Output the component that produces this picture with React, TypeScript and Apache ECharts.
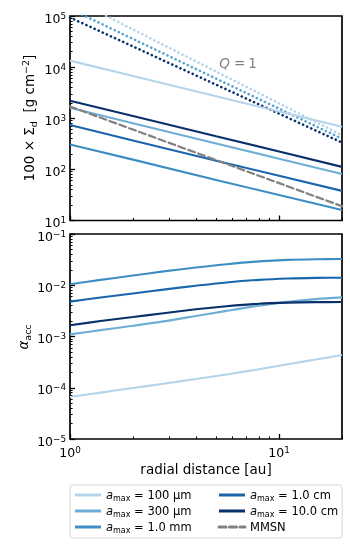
import React, { useEffect, useRef } from 'react';
import * as echarts from 'echarts';

// ---------- data ----------
const radius = [1, 2, 5, 10, 20];
const sigma100um = [13400, 6700, 2690, 1350, 680];
const sigma300um = [1600, 800, 322, 161, 81];
const sigma1mm = [308, 155, 62, 31.5, 16];
const sigma1cm = [735, 368, 148, 75, 38];
const sigma10cm = [2200, 1110, 445, 224, 112];
const sigmaMMSN = [1700, 601, 152, 53.8, 19];

const sigmaQ100um = [229000, 54600, 8180, 1950, 464];
const sigmaQ1mm = [138000, 35600, 5960, 1540, 398];
const sigmaQ10cm = [93300, 25400, 4530, 1230, 334];

const radiusFine = [1, 1.4, 2, 2.8, 4, 5.6, 8, 11, 15, 20];
const alpha100um = [6.6e-5, 8.04e-5, 9.89e-5, 1.2e-4, 1.48e-4, 1.82e-4, 2.29e-4, 2.88e-4, 3.55e-4, 4.34e-4];
const alpha300um = [1.1e-3, 1.33e-3, 1.62e-3, 1.97e-3, 2.51e-3, 3.16e-3, 3.98e-3, 4.73e-3, 5.37e-3, 5.8e-3];
const alpha1mm = [0.01047, 0.01274, 0.01549, 0.01862, 0.02213, 0.0257, 0.02917, 0.03126, 0.03221, 0.03251];
const alpha1cm = [0.00479, 0.00575, 0.00692, 0.00822, 0.00977, 0.01135, 0.01274, 0.01355, 0.01393, 0.01403];
const alpha10cm = [0.00166, 0.002, 0.0024, 0.00285, 0.00339, 0.00389, 0.00437, 0.00459, 0.00468, 0.0047];

const legendNames = ['100 µm', '300 µm', '1.0 mm', '1.0 cm', '10.0 cm', 'MMSN'];

const xMajorTicks = [1, 10];
const yTopMajorTicks = [10, 100, 1000, 10000, 100000];
const yBottomMajorTicks = [1e-5, 1e-4, 1e-3, 1e-2, 1e-1];
const minorMultipliers = [2, 3, 4, 5, 6, 7, 8, 9];

// ---------- styling ----------
const FONT = 'DejaVu Sans';
const C100 = '#b5d4e9';
const C300 = '#6eaed6';
const C1MM = '#3d8ec4';
const C1CM = '#1a66ac';
const C10CM = '#08306b';
const CGRAY = '#808080';

const lg = Math.log10;
const toLog = (xs: number[], ys: number[]) => xs.map((x, i) => [lg(x), lg(ys[i])]);
const minorOf = (majors: number[]) => {
  const out: number[] = [];
  majors.slice(0, -1).forEach((m) => minorMultipliers.forEach((k) => out.push(lg(m * k))));
  return out;
};

const tickRich = {
  b: { fontSize: 12.5, lineHeight: 14, fontFamily: FONT, color: '#000' },
  s: { fontSize: 8.8, lineHeight: 4, verticalAlign: 'top', fontFamily: FONT, color: '#000' },
};
const tickFormatter = (v: number) => {
  const e = Math.round(v);
  return `{b|10}{s|${e < 0 ? '\u2212' + -e : e}}`;
};

function majorAxis(gridIndex: number, min: number, max: number, ticks: number[], showLabel: boolean, position: string, isY: boolean) {
  const vals = ticks.map(lg);
  return {
    type: 'value',
    gridIndex,
    min,
    max,
    position,
    axisLine: { show: false },
    splitLine: { show: false },
    axisTick: { show: true, inside: true, length: 5, lineStyle: { color: '#000', width: 1.3 }, customValues: vals },
    axisLabel: {
      show: showLabel,
      customValues: vals,
      formatter: tickFormatter,
      rich: tickRich,
      margin: isY ? 4 : 6,
      padding: isY ? [4, 0, 0, 0] : 0,
    },
  };
}
function minorAxis(gridIndex: number, min: number, max: number, ticks: number[], position: string) {
  return {
    type: 'value',
    gridIndex,
    min,
    max,
    position,
    axisLine: { show: false },
    splitLine: { show: false },
    axisTick: { show: true, inside: true, length: 2.6, lineStyle: { color: '#000', width: 1 }, customValues: minorOf(ticks) },
    axisLabel: { show: false },
  };
}

const XMIN = 0;
const XMAX = lg(20);

const lineSeries = (name: string, xi: number, yi: number, xs: number[], ys: number[], color: string, type: any, width: number, smooth: boolean, z: number) => ({
  type: 'line',
  name,
  xAxisIndex: xi,
  yAxisIndex: yi,
  data: toLog(xs, ys),
  symbol: 'none',
  smooth: smooth ? 0.3 : false,
  clip: true,
  z,
  lineStyle: { color, width, type, cap: type === 'solid' ? 'butt' : 'round' },
  itemStyle: { color },
  emphasis: { disabled: true },
});

export default function App() {
  const ref = useRef<HTMLDivElement>(null);
  useEffect(() => {
    const chart = echarts.init(ref.current!, null, { renderer: 'svg' });
    const dot: any = [0.1, 4.4];
    const option: any = {
      animation: false,
      textStyle: { fontFamily: FONT },
      grid: [
        { left: 70, top: 16, width: 272, height: 204.5, show: true, borderColor: '#000', borderWidth: 1.7, backgroundColor: 'transparent', outerBoundsMode: 'none' },
        { left: 70, top: 234, width: 272, height: 205, show: true, borderColor: '#000', borderWidth: 1.7, backgroundColor: 'transparent', outerBoundsMode: 'none' },
      ],
      xAxis: [
        majorAxis(0, XMIN, XMAX, xMajorTicks, false, 'bottom', false),
        minorAxis(0, XMIN, XMAX, [1, 10, 100], 'bottom'),
        majorAxis(1, XMIN, XMAX, xMajorTicks, true, 'bottom', false),
        minorAxis(1, XMIN, XMAX, [1, 10, 100], 'bottom'),
      ],
      yAxis: [
        majorAxis(0, 1, 5, yTopMajorTicks, true, 'left', true),
        minorAxis(0, 1, 5, yTopMajorTicks, 'left'),
        majorAxis(1, -5, -1, yBottomMajorTicks, true, 'left', true),
        minorAxis(1, -5, -1, yBottomMajorTicks, 'left'),
      ],
      legend: {
        data: legendNames,
        orient: 'vertical',
        left: 70,
        top: 485,
        height: 50,
        itemWidth: 26,
        itemHeight: 14,
        itemGap: 3,
        padding: [4, 4, 4, 3.5],
        borderColor: '#d6d6d6',
        borderWidth: 1,
        borderRadius: 3,
        backgroundColor: '#fff',
        selectedMode: false,
        lineStyle: { width: 3 },
        itemStyle: { opacity: 0, borderWidth: 0 },
        formatter: (name: string) => {
          if (name === 'MMSN') return '{t|MMSN}';
          const col1 = legendNames.indexOf(name) < 3;
          return `{a|a}{s|max}{${col1 ? 'v1' : 'v'}| = ${name}}`;
        },
        textStyle: {
          fontFamily: FONT,
          color: '#000',
          rich: {
            a: { fontSize: 11.5, lineHeight: 14, fontStyle: 'italic', fontFamily: FONT, color: '#000' },
            s: { fontSize: 8, lineHeight: 6, verticalAlign: 'bottom', fontFamily: FONT, color: '#000' },
            v1: { fontSize: 11.5, lineHeight: 14, fontFamily: FONT, color: '#000', width: 84, align: 'left' },
            v: { fontSize: 11.5, lineHeight: 14, fontFamily: FONT, color: '#000' },
            t: { fontSize: 11.5, lineHeight: 14, fontFamily: FONT, color: '#000' },
          },
        },
      },
      series: [
        // Q = 1 (dotted)
        lineSeries('Q1 100 µm', 0, 0, radius, sigmaQ100um, C100, dot, 2.6, false, 2),
        lineSeries('Q1 1.0 mm', 0, 0, radius, sigmaQ1mm, '#5aa2cf', dot, 2.6, false, 2),
        lineSeries('Q1 10.0 cm', 0, 0, radius, sigmaQ10cm, C10CM, dot, 2.6, false, 2),
        // dust surface densities
        lineSeries('100 µm', 0, 0, radius, sigma100um, C100, 'solid', 2.1, false, 3),
        lineSeries('300 µm', 0, 0, radius, sigma300um, C300, 'solid', 2.1, false, 3),
        lineSeries('1.0 mm', 0, 0, radius, sigma1mm, C1MM, 'solid', 2.1, false, 3),
        lineSeries('1.0 cm', 0, 0, radius, sigma1cm, C1CM, 'solid', 2.1, false, 3),
        lineSeries('10.0 cm', 0, 0, radius, sigma10cm, C10CM, 'solid', 2.1, false, 3),
        lineSeries('MMSN', 0, 0, radius, sigmaMMSN, CGRAY, [7, 3.5], 2.2, false, 3),
        // alpha_acc
        lineSeries('100 µm', 2, 2, radiusFine, alpha100um, C100, 'solid', 2.1, true, 3),
        lineSeries('300 µm', 2, 2, radiusFine, alpha300um, C300, 'solid', 2.1, true, 3),
        lineSeries('1.0 mm', 2, 2, radiusFine, alpha1mm, C1MM, 'solid', 2.1, true, 3),
        lineSeries('1.0 cm', 2, 2, radiusFine, alpha1cm, C1CM, 'solid', 2.1, true, 3),
        lineSeries('10.0 cm', 2, 2, radiusFine, alpha10cm, C10CM, 'solid', 2.1, true, 3),
      ],
      graphic: [
        {
          type: 'text',
          x: 29,
          y: 118,
          rotation: Math.PI / 2,
          style: {
            text: '{t|100 \u00d7 \u03a3}{sub|d}{t|  [g cm}{sup|\u22122}{t|]}',
            align: 'center',
            verticalAlign: 'middle',
            rich: {
              t: { fontSize: 13.5, lineHeight: 18, fontFamily: FONT, fill: '#000' },
              sub: { fontSize: 9.5, lineHeight: 7, verticalAlign: 'bottom', fontFamily: FONT, fill: '#000' },
              sup: { fontSize: 9.5, lineHeight: 6, verticalAlign: 'top', fontFamily: FONT, fill: '#000' },
            },
          },
        },
        {
          type: 'text',
          x: 23,
          y: 337,
          rotation: Math.PI / 2,
          style: {
            text: '{t|\u03b1}{sub|acc}',
            align: 'center',
            verticalAlign: 'middle',
            rich: {
              t: { fontSize: 13.5, lineHeight: 18, fontStyle: 'italic', fontFamily: FONT, fill: '#000' },
              sub: { fontSize: 9.5, lineHeight: 7, verticalAlign: 'bottom', fontFamily: FONT, fill: '#000' },
            },
          },
        },
        {
          type: 'text',
          x: 206,
          y: 469,
          style: { text: 'radial distance [au]', align: 'center', verticalAlign: 'middle', fontSize: 13.5, fontFamily: FONT, fill: '#000' },
        },
        {
          type: 'text',
          x: 238,
          y: 63,
          style: {
            text: '{q|Q}{e|=}{o|1}',
            align: 'center',
            verticalAlign: 'middle',
            rich: {
              q: { fontSize: 13.5, fontStyle: 'italic', fontFamily: FONT, fill: CGRAY, padding: [0, 4, 0, 0] },
              e: { fontSize: 13.5, fontFamily: FONT, fill: CGRAY, padding: [0, 3, 0, 0] },
              o: { fontSize: 13.5, fontFamily: FONT, fill: CGRAY },
            },
          },
        },
      ],
    };
    chart.setOption(option);
    return () => chart.dispose();
  }, []);
  return <div ref={ref} style={{ position: 'fixed', left: 0, top: 0, width: 350, height: 550 }} />;
}
